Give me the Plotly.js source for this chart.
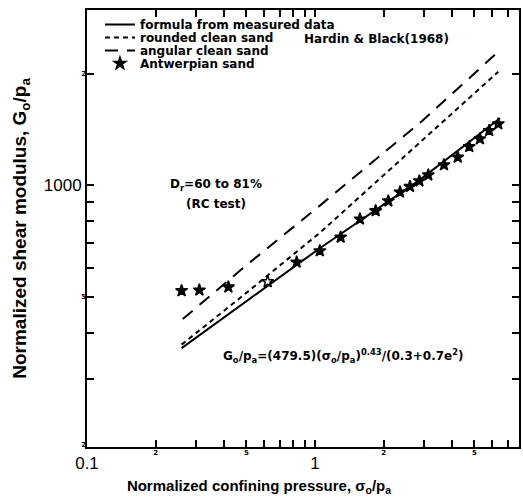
<!DOCTYPE html>
<html><head><meta charset="utf-8">
<script src="https://cdn.plot.ly/plotly-3.0.1.min.js"></script>
<style>html,body{margin:0;padding:0;background:#fff}</style>
</head><body><div id="chart" style="width:523px;height:498px"></div>
<script>
// ---- data ----
const measuredX = [0.26, 0.5, 1.05, 2.88, 6.48];
const measuredY = [364, 487, 677, 1035, 1518];
const roundedX = [0.26, 0.5, 1.05, 2.88, 6.37];
const roundedY = [372, 513, 745, 1300, 2026];
const angularX = [0.263, 0.5, 1.06, 2.95, 6.37];
const angularY = [436, 609, 886, 1492, 2294];
const antwerpX = [0.26, 0.311, 0.417, 0.62, 0.831, 1.05, 1.296, 1.575, 1.846, 2.097, 2.36, 2.61, 2.87, 3.14, 3.68, 4.23, 4.75, 5.29, 5.81, 6.37];
const antwerpY = [520, 522, 532, 550, 621, 666, 725, 811, 854, 908, 959, 993, 1028, 1067, 1136, 1191, 1272, 1335, 1405, 1465];
const seriesNames = ['formula from measured data', 'rounded clean sand', 'angular clean sand', 'Antwerpian sand'];

const xRange = [0.1, 7.85];
const yRange = [197, 2972];
const xTickVals = [0.1, 0.2, 0.3, 0.4, 0.5, 0.6, 0.7, 0.8, 0.9, 1, 2, 3, 4, 5, 6, 7];
const xTickText = ['0.1', '', '', '', '', '', '', '', '', '1', '', '', '', '', '', ''];
const xSmallTicks = [0.2, 0.5, 2, 5];
const xSmallLabels = ['2', '5', '2', '5'];
const yTickVals = [300, 400, 500, 600, 700, 800, 900, 1000, 2000];
const yTickText = ['', '', '', '', '', '', '', '1000', ''];
const ySmallTicks = [200, 500, 2000];
const ySmallLabels = ['2', '5', '2'];

const xTitle = 'Normalized confining pressure, σ<sub>o</sub>/p<sub>a</sub>';
const yTitle = 'Normalized shear modulus, G<sub>o</sub>/p<sub>a</sub>';
const refText = 'Hardin &amp; Black(1968)';
const drText = 'D<sub>r</sub>=60 to 81%';
const rcText = '(RC test)';
const formulaText = 'G<sub>o</sub>/p<sub>a</sub>=(479.5)(σ<sub>o</sub>/p<sub>a</sub>)<sup>0.43</sup>/(0.3+0.7e<sup>2</sup>)';

const L = Math.log10;
const boldFont = {family: 'DejaVu Sans', size: 12, color: '#000', weight: 'bold'};

const traces = [
  {x: measuredX, y: measuredY, name: seriesNames[0], mode: 'lines', type: 'scatter',
   line: {color: '#000', width: 2, dash: 'solid'}},
  {x: roundedX, y: roundedY, name: seriesNames[1], mode: 'lines', type: 'scatter',
   line: {color: '#000', width: 2, dash: '5px,4px'}},
  {x: angularX, y: angularY, name: seriesNames[2], mode: 'lines', type: 'scatter',
   line: {color: '#000', width: 2, dash: '13px,9px'}},
  {x: antwerpX, y: antwerpY, name: seriesNames[3], mode: 'markers', type: 'scatter',
   xaxis: 'x2', yaxis: 'y2',
   marker: {symbol: antwerpX.map((_, i) => i === 3 ? 'star-open' : 'star'), size: 9, color: '#000',
            line: {color: '#000', width: 1.5}}}
];

const axisCommon = {
  type: 'log', showgrid: false, zeroline: false, showline: true, linecolor: '#000', linewidth: 2,
  mirror: 'ticks', ticks: 'inside', ticklen: 7, tickwidth: 2, tickcolor: '#000',
  tickmode: 'array', tickfont: {family: 'Liberation Sans', size: 17, color: '#000'}
};
const smallAxis = {
  type: 'log', ticks: '', showline: false, showgrid: false, zeroline: false, tickmode: 'array',
  tickfont: {family: 'DejaVu Sans', size: 7, color: '#000', weight: 'bold'}
};

const layout = {
  width: 523, height: 498,
  margin: {l: 87, r: 4, t: 10, b: 51},
  paper_bgcolor: '#fff', plot_bgcolor: '#fff',
  showlegend: true,
  legend: {x: 0.03, y: 1.0, xanchor: 'left', yanchor: 'top', bgcolor: 'rgba(0,0,0,0)',
           font: boldFont, tracegroupgap: 0, itemwidth: 30},
  xaxis: Object.assign({}, axisCommon, {
    range: [L(xRange[0]), L(xRange[1])],
    tickvals: xTickVals, ticktext: xTickText,
    title: {text: xTitle, font: {family: 'Liberation Sans', size: 15, color: '#000', weight: 'bold'}, standoff: 8}
  }),
  yaxis: Object.assign({}, axisCommon, {
    range: [L(yRange[0]), L(yRange[1])],
    tickvals: yTickVals, ticktext: yTickText,
    title: {text: yTitle, font: {family: 'Liberation Sans', size: 19, color: '#000', weight: 'bold'}, standoff: 12}
  }),
  xaxis2: Object.assign({}, smallAxis, {
    overlaying: 'x', anchor: 'y2', side: 'bottom',
    range: [L(xRange[0]), L(xRange[1])],
    tickvals: xSmallTicks, ticktext: xSmallLabels
  }),
  yaxis2: Object.assign({}, smallAxis, {
    overlaying: 'y', anchor: 'x2', side: 'left',
    range: [L(yRange[0]), L(yRange[1])],
    tickvals: ySmallTicks, ticktext: ySmallLabels
  }),
  annotations: [
    {text: refText, xref: 'paper', yref: 'paper', x: 0.671, y: 0.934, xanchor: 'center', yanchor: 'middle', showarrow: false, font: boldFont},
    {text: drText, xref: 'paper', yref: 'paper', x: 0.298, y: 0.599, xanchor: 'center', yanchor: 'middle', showarrow: false, font: boldFont},
    {text: rcText, xref: 'paper', yref: 'paper', x: 0.298, y: 0.556, xanchor: 'center', yanchor: 'middle', showarrow: false, font: boldFont},
    {text: formulaText, xref: 'paper', yref: 'paper', x: 0.593, y: 0.208, xanchor: 'center', yanchor: 'middle', showarrow: false, font: boldFont}
  ]
};

Plotly.newPlot('chart', traces, layout, {displayModeBar: false, staticPlot: true}).then(gd => {
  // tighten legend row spacing to match the reference
  const items = gd.querySelectorAll('.legend .traces');
  let y0 = null;
  items.forEach((el, i) => {
    const t = el.getAttribute('transform') || '';
    const m = t.match(/translate\(\s*([-\d.]+)[ ,]+([-\d.]+)\s*\)/);
    if (!m) return;
    const x = parseFloat(m[1]);
    const y = parseFloat(m[2]);
    if (y0 === null) y0 = y;
    el.setAttribute('transform', 'translate(' + x + ',' + (y0 + i * 13) + ')');
  });
  // the reference's x-axis title sits left of the plot centre
  const xt = gd.querySelector('.g-xtitle text');
  if (xt) xt.setAttribute('transform', 'translate(-44,0)');
});
</script>
</body></html>
